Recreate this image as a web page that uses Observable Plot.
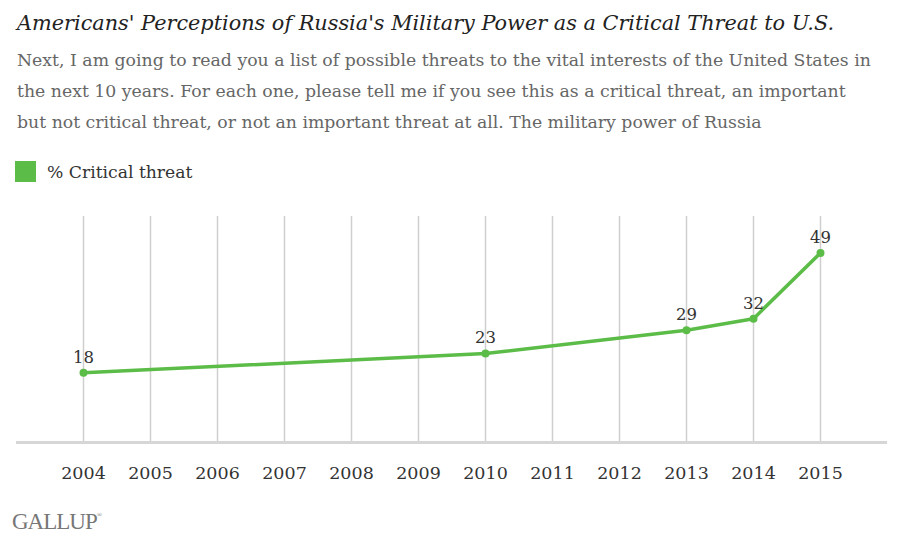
<!DOCTYPE html>
<html>
<head>
<meta charset="utf-8">
<script src="https://cdn.jsdelivr.net/npm/d3@7"></script>
<script src="https://cdn.jsdelivr.net/npm/@observablehq/plot@0.6"></script>
<style>
  html, body { margin: 0; padding: 0; background: #fff; }
  body { width: 900px; height: 546px; position: relative; overflow: hidden; font-family: "DejaVu Serif", serif; }
  #title { position: absolute; left: 17px; top: 11px; font-size: 20.8px; font-style: italic; color: #222; white-space: nowrap; }
  #subtitle { position: absolute; left: 17px; top: 45px; font-size: 17.3px; line-height: 31px; color: #666; white-space: nowrap; }
  #legend { position: absolute; left: 15px; top: 161px; display: flex; align-items: center; font-size: 17.2px; color: #333; }
  #legend .sw { width: 21px; height: 21px; background: #5cbc48; margin-right: 11px; }
  #chart { position: absolute; left: 0; top: 190px; }
  #logo { position: absolute; left: 12px; top: 509px; font-size: 23px; color: #777; letter-spacing: -1px; font-family: "Liberation Serif", serif; }
  #logo sup { font-size: 7px; vertical-align: 12px; }
</style>
</head>
<body>
<div id="title">Americans' Perceptions of Russia's Military Power as a Critical Threat to U.S.</div>
<div id="subtitle">Next, I am going to read you a list of possible threats to the vital interests of the United States in<br>the next 10 years. For each one, please tell me if you see this as a critical threat, an important<br>but not critical threat, or not an important threat at all. The military power of Russia</div>
<div id="legend"><div class="sw"></div><span>% Critical threat</span></div>
<div id="chart"></div>
<div id="logo">GALLUP<sup>®</sup></div>
<script>
const years = [2004, 2010, 2013, 2014, 2015];
const critical = [18, 23, 29, 32, 49];
const tickYears = [2004, 2005, 2006, 2007, 2008, 2009, 2010, 2011, 2012, 2013, 2014, 2015];
const seriesName = "% Critical threat";
const green = "#5cbc48";

const data = years.map((y, i) => ({year: y, value: critical[i]}));

const chart = Plot.plot({
  width: 900,
  height: 312,
  marginTop: 26,
  marginBottom: 60,
  marginLeft: 16,
  marginRight: 13,
  style: {fontFamily: "'DejaVu Serif', serif", fontSize: "17.5px", color: "#333", background: "transparent"},
  x: {domain: [2003, 2016], ticks: tickYears, tickFormat: d => String(d), tickSize: 0, tickPadding: 24, label: null},
  y: {domain: [0, 58.4], axis: null},
  marks: [
    Plot.ruleX(tickYears, {stroke: "#cfcfcf", strokeWidth: 1.5}),
    Plot.ruleY([0], {stroke: "#d6d6d6", strokeWidth: 3}),
    Plot.line(data, {x: "year", y: "value", stroke: green, strokeWidth: 3.5}),
    Plot.dot(data, {x: "year", y: "value", r: 4, fill: green}),
    Plot.text(data, {x: "year", y: "value", text: d => String(d.value), lineAnchor: "bottom", dy: -10, fill: "#333", fontSize: 16.5})
  ]
});
document.getElementById("chart").appendChild(chart);
</script>
</body>
</html>
